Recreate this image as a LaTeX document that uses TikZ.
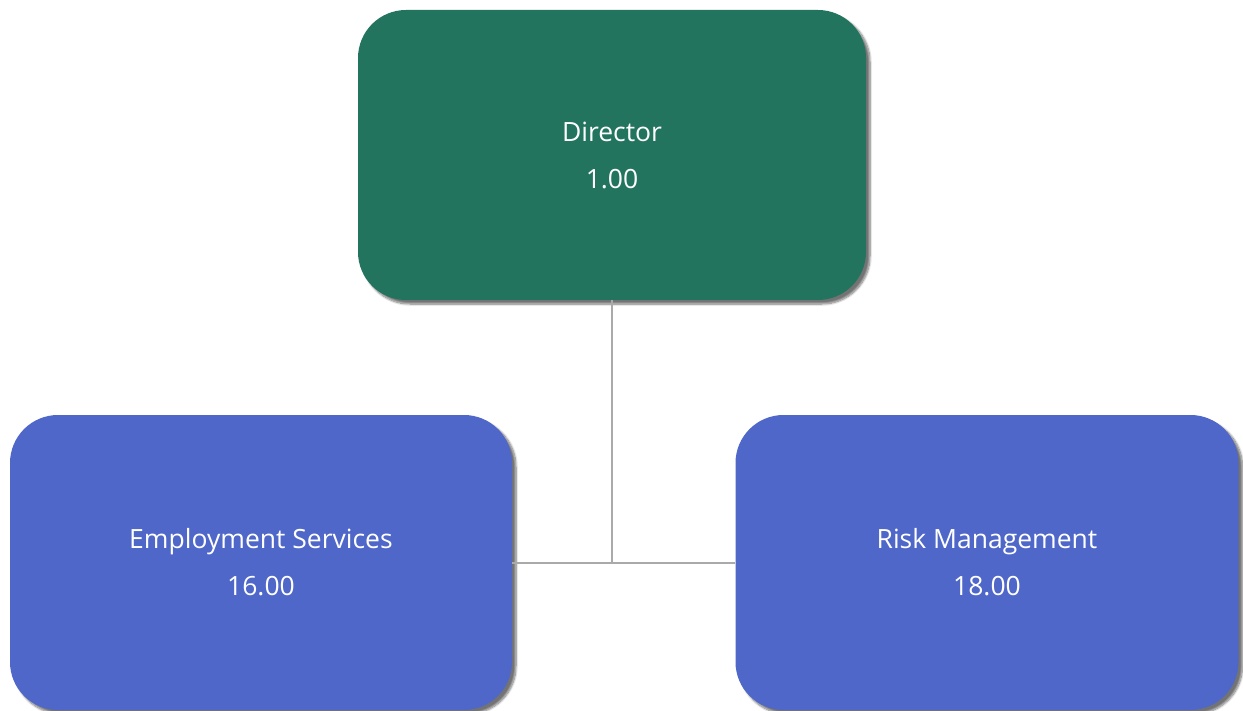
\documentclass[tikz,border=0pt]{standalone}
\usepackage{fontspec}
\setmainfont{Open Sans}
\usetikzlibrary{shadows.blur}
\definecolor{dirgreen}{HTML}{23745E}
\definecolor{unitblue}{HTML}{4F67C8}
\definecolor{conngray}{HTML}{AAAAAA}
\tikzset{
  orgbox/.style={rounded corners=48pt, text=white, align=center, inner sep=0pt,
    font=\fontsize{26.5}{47}\selectfont,
    blur shadow={shadow xshift=4pt, shadow yshift=-4pt, shadow blur steps=8, shadow blur extra rounding=2pt, shadow opacity=55}},
  conn/.style={draw=conngray, line width=2pt}
}
\begin{document}
\begin{tikzpicture}[x=1pt,y=-1pt]
\useasboundingbox (0,0) rectangle (1243,711);
\node[orgbox, fill=dirgreen, minimum width=508pt, minimum height=290pt] (dir) at (612,155) {Director\\1.00};
\node[orgbox, fill=unitblue, minimum width=502pt, minimum height=295pt] (emp) at (261,562.5) {Employment Services\\16.00};
\node[orgbox, fill=unitblue, minimum width=503pt, minimum height=295pt] (risk) at (987,562.5) {Risk Management\\18.00};
\draw[conn] (dir.south) -- (dir.south |- emp.east);
\draw[conn] (emp.east) -- (risk.west);
\end{tikzpicture}
\end{document}
